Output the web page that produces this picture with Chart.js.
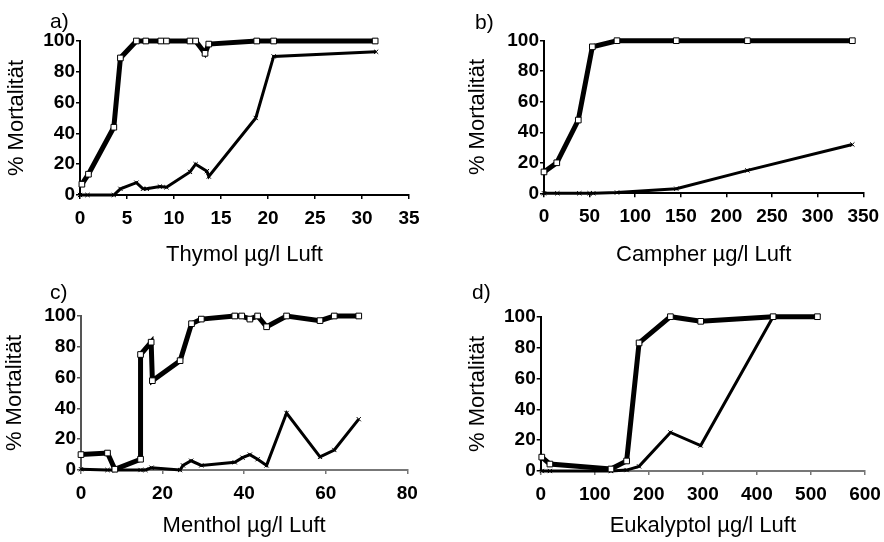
<!DOCTYPE html>
<html>
<head>
<meta charset="utf-8">
<script src="https://cdn.jsdelivr.net/npm/chart.js"></script>
<style>
body { margin: 0; background: #fff; }
#wrap { position: relative; width: 884px; height: 542px; overflow: hidden; }
canvas { position: absolute; }
.lbl { position: absolute; font: 21px "Liberation Sans", Arial, sans-serif; line-height: 1; color: #000; }
</style>
</head>
<body>
<div id="wrap">
  <canvas id="chartA" width="442" height="271" style="left:0;top:0"></canvas>
  <canvas id="chartB" width="442" height="271" style="left:442px;top:0"></canvas>
  <canvas id="chartC" width="442" height="271" style="left:0;top:271px"></canvas>
  <canvas id="chartD" width="442" height="271" style="left:442px;top:271px"></canvas>
  <div class="lbl" style="left:50px;top:10px">a)</div>
  <div class="lbl" style="left:475px;top:11px">b)</div>
  <div class="lbl" style="left:50px;top:281px">c)</div>
  <div class="lbl" style="left:472px;top:281px">d)</div>
</div>
<script>
// a) Thymol
const thymolSquareX = [0.2, 0.9, 3.6, 4.3, 6.0, 7.0, 8.6, 9.2, 11.7, 12.3, 13.3, 13.7, 18.8, 20.6, 31.4];
const thymolSquareY = [7, 13.5, 44, 89, 100, 100, 100, 100, 100, 100, 92, 98, 100, 100, 100];
const thymolCrossX = [0, 0.8, 3.6, 4.3, 6.0, 6.7, 7.1, 8.5, 9.2, 11.7, 12.3, 13.5, 13.7, 18.7, 20.6, 31.5];
const thymolCrossY = [0, 0, 0, 4, 8, 4, 4, 5.5, 5, 15, 20, 15.5, 12, 50, 90, 93];

// b) Campher
const campherSquareX = [0, 14, 37.6, 53, 80, 145, 223, 338];
const campherSquareY = [14, 20, 48, 96, 100, 100, 100, 100];
const campherCrossX = [0, 14.6, 38.7, 50, 54, 80, 145, 223, 338];
const campherCrossY = [0, 0, 0, 0, 0, 0.5, 3, 15, 32];

// c) Menthol
const mentholSquareX = [0, 6.5, 8.3, 14.6, 14.6, 17.2, 17.5, 24.3, 27.1, 29.5, 37.7, 39.4, 41.4, 43.3, 45.5, 50.4, 58.6, 62.1, 68.1];
const mentholSquareY = [10, 11, 0.5, 7, 75, 83, 58, 71, 95, 98, 100, 100, 98, 100, 93, 100, 97, 100, 100];
const mentholCrossX = [0, 6.5, 8.3, 14.6, 15.8, 17.3, 24.3, 25, 27, 29.5, 37.7, 39.6, 41.4, 43.3, 45.5, 50.4, 58.6, 62.1, 68.1];
const mentholCrossY = [0.5, 0, 0, 0, 0, 1.5, 0, 3, 6, 3, 5, 8, 10, 7, 3, 37, 8.5, 13, 33];

// d) Eukalyptol
const eukSquareX = [2, 17, 130, 159, 182, 240, 296, 430, 512];
const eukSquareY = [9, 4.5, 1.3, 6.5, 83, 100, 97, 100, 100];
const eukCrossX = [2, 17, 130, 159, 182, 240, 296, 430, 512];
const eukCrossY = [0, 0, 0, 0.6, 3, 25, 16.5, 100, 100];

const yTitle = '% Mortalität';
const fontFamily = '"Liberation Sans", Arial, sans-serif';
const tickFont = { family: fontFamily, size: 19, weight: 'bold' };
const titleFont = { family: fontFamily, size: 22 };

function toPoints(xs, ys) {
    return xs.map((x, i) => ({ x: x, y: ys[i] }));
}

function makePanel(id, xTitle, xMax, xStep, sqX, sqY, crX, crY, box) {
    new Chart(document.getElementById(id), {
        type: 'line',
        data: {
            datasets: [{
                data: toPoints(sqX, sqY),
                borderColor: '#000',
                borderWidth: 5,
                pointStyle: 'rect',
                pointRadius: 4,
                pointBackgroundColor: '#fff',
                pointBorderColor: '#000',
                pointBorderWidth: 1,
                tension: 0,
                clip: false
            }, {
                data: toPoints(crX, crY),
                borderColor: '#000',
                borderWidth: 3,
                pointStyle: 'crossRot',
                pointRadius: 3,
                pointBorderColor: '#000',
                pointBorderWidth: 1,
                tension: 0,
                clip: false
            }]
        },
        options: {
            responsive: false,
            animation: false,
            layout: { padding: { top: box.top, right: box.right, left: 0, bottom: 0 } },
            plugins: { legend: { display: false }, tooltip: { enabled: false } },
            scales: {
                x: {
                    type: 'linear', min: 0, max: xMax,
                    ticks: { stepSize: xStep, font: tickFont, color: '#000', padding: 8, maxRotation: 0, autoSkip: false },
                    grid: { drawOnChartArea: false, tickLength: 4, color: box.xAxisColor, lineWidth: 1.5 },
                    border: { color: box.xAxisColor, width: 2 },
                    title: { display: true, text: xTitle, font: titleFont, color: '#000', padding: { top: 4, bottom: 3 } },
                    afterFit(s) { s.height = box.bottom; s.paddingLeft = 0; s.paddingRight = 0; }
                },
                y: {
                    type: 'linear', min: 0, max: 100,
                    ticks: { stepSize: 20, font: tickFont, color: '#000', padding: 1 },
                    grid: { drawOnChartArea: false, tickLength: 4, color: box.yAxisColor, lineWidth: 1.5 },
                    border: { color: box.yAxisColor, width: 2 },
                    title: { display: true, text: yTitle, font: titleFont, color: '#000', padding: { top: box.yTitlePad, bottom: 4 } },
                    afterFit(s) { s.width = box.left; s.paddingTop = 0; s.paddingBottom = 0; }
                }
            }
        }
    });
}

makePanel('chartA', 'Thymol µg/l Luft', 35, 5, thymolSquareX, thymolSquareY, thymolCrossX, thymolCrossY,
    { left: 80, right: 33, top: 41, bottom: 76, yTitlePad: 3.5, xAxisColor: '#000', yAxisColor: '#000' });
makePanel('chartB', 'Campher µg/l Luft', 350, 50, campherSquareX, campherSquareY, campherCrossX, campherCrossY,
    { left: 102, right: 20.7, top: 40.7, bottom: 77.7, yTitlePad: 22.5, xAxisColor: '#000', yAxisColor: '#000' });
makePanel('chartC', 'Menthol µg/l Luft', 80, 20, mentholSquareX, mentholSquareY, mentholCrossX, mentholCrossY,
    { left: 81, right: 34.7, top: 45, bottom: 72, yTitlePad: 1.8, xAxisColor: '#777', yAxisColor: '#555' });
makePanel('chartD', 'Eukalyptol µg/l Luft', 600, 100, eukSquareX, eukSquareY, eukCrossX, eukCrossY,
    { left: 98.7, right: 19, top: 45.7, bottom: 71, yTitlePad: 22.3, xAxisColor: '#777', yAxisColor: '#000' });
</script>
</body>
</html>
